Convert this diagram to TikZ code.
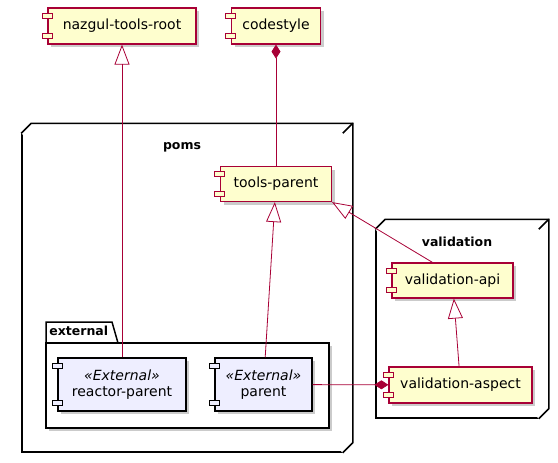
\documentclass[tikz,border=0pt]{standalone}
\usepackage{fontspec}
\setmainfont{DejaVu Sans}
\usepackage{tikz}
\usetikzlibrary{shadows}
\usetikzlibrary{positioning}
\usetikzlibrary{arrows.meta,calc}
\definecolor{umlred}{HTML}{A80036}
\definecolor{umlyellow}{HTML}{FEFECE}
\definecolor{umlblue}{HTML}{EEEEFF}
\tikzstyle{component}=[rectangle,draw=umlred,fill=umlyellow,line width=1.2pt,inner sep=0pt,font=\fontsize{14}{16}\selectfont,drop shadow={shadow xshift=3pt,shadow yshift=-3pt,fill=black!40,opacity=.5}]
\tikzstyle{extcomponent}=[component,draw=black,fill=umlblue,align=center]
\tikzstyle{port}=[draw=umlred,fill=umlyellow,line width=1pt]
\tikzstyle{extport}=[draw=black,fill=umlblue,line width=1pt]
\tikzstyle{container}=[draw=black,line width=1.5pt,fill=white,inner sep=0pt]
\tikzstyle{title}=[font=\bfseries\fontsize{12.5}{15}\selectfont,inner sep=0pt]
\tikzstyle{link}=[draw=umlred,line width=0.8pt]
\tikzstyle{generalization}=[link,-{Triangle[open,length=20pt,width=15pt]}]
\tikzstyle{composition}=[link,{Diamond[length=14pt,width=9pt]}-]

\begin{document}
\begin{tikzpicture}[x=1pt,y=-1pt]
    \useasboundingbox (0,0) rectangle (558,463);

    % node boxes
    \node[container,minimum width=320pt,minimum height=318pt] (poms) at (182,293) {};
    \draw[container] (poms.north west) -- ++(10,-10) -| ($(poms.south east)+(10,-10)$) -- (poms.south east);
    \draw[container] (poms.north east) -- ++(10,-10);
    \node[title] (pomsTitle) at ($(poms.north)+(0,14)$) {poms};

    \node[container,minimum width=162pt,minimum height=188pt] (validation) at (457,324) {};
    \draw[container] (validation.north west) -- ++(10,-10) -| ($(validation.south east)+(10,-10)$) -- (validation.south east);
    \draw[container] (validation.north east) -- ++(10,-10);
    \node[title] (validationTitle) at ($(validation.north)+(0,13)$) {validation};

    % package
    \draw[container] (46,343) -- (46,322) -- (112,322) -- (118,343);
    \node[container,minimum width=283pt,minimum height=85pt,drop shadow={shadow xshift=3pt,shadow yshift=-3pt,fill=black!40,opacity=.5}] (external) at (187.5,385.5) {};
    \node[title,anchor=west] (externalTitle) at ($(external.north west)+(4,-11)$) {external};

    % components
    \foreach \pos/\name/\w/\h/\txt in {{(122,26)/nazgul/148/36/nazgul-tools-root}, {(276,26)/codestyle/89/36/codestyle},
        {(276,184)/toolsparent/111/35/tools-parent}, {(452.5,280.5)/valapi/121/35/validation-api}, {(460.5,385)/aspect/143/36/validation-aspect}}
        \node[component,minimum width=\w pt,minimum height=\h pt] (\name) at \pos {\txt};

    \foreach \pos/\name/\w/\txt in {{(122,384.5)/reactor/128/reactor-parent}, {(263.5,384.5)/parent/97/parent}}
        \node[extcomponent,minimum width=\w pt,minimum height=53pt] (\name) at \pos {\textit{«External»}\\\txt};

    \foreach \name in {nazgul,codestyle,toolsparent,valapi,aspect} {
        \draw[port] ($(\name.north west)+(-5,6)$) rectangle ++(10,5);
        \draw[port] ($(\name.south west)+(-5,-11)$) rectangle ++(10,5);
    }
    \foreach \name in {reactor,parent} {
        \draw[extport] ($(\name.north west)+(-5,6)$) rectangle ++(10,5);
        \draw[extport] ($(\name.south west)+(-5,-11)$) rectangle ++(10,5);
    }

    % relations
    \draw[generalization] (reactor) -- (nazgul);
    \draw[composition] (codestyle) -- (toolsparent);
    \draw[generalization] (parent) -- (toolsparent);
    \draw[generalization] ($(valapi.north)+(-20,0)$) -- (toolsparent.south east);
    \draw[generalization] (aspect) -- (valapi);
    \draw[composition] (aspect) -- (parent);

\end{tikzpicture}
\end{document}
